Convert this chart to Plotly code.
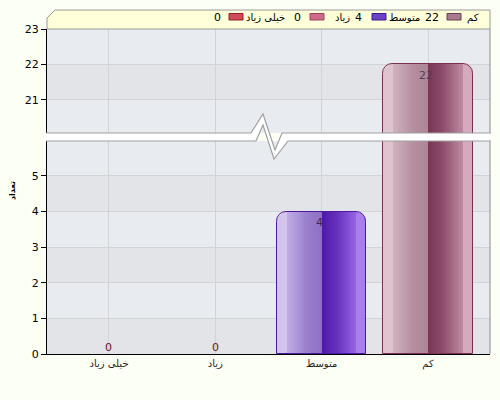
import plotly.graph_objects as go

# ---------------- data ----------------
CATEGORIES = ["خیلی زیاد", "زیاد", "متوسط", "کم"]
VALUES = [0, 0, 4, 22]
Y_TICKS_LOW = [0, 1, 2, 3, 4, 5]
Y_TICKS_HIGH = [21, 22, 23]
Y_TITLE = "تعداد"

# ---------------- styles ----------------
LEFT_STOPS = {
    "خیلی زیاد": ["#E8B0B8", "#D07080", "#C85868", "#C45060"],
    "زیاد": ["#ECC0CC", "#D888A0", "#CC7090", "#C86888"],
    "متوسط": ["#D2C4EC", "#B6A2DE", "#9A80CC", "#8E70C2"],
    "کم": ["#DEC4CE", "#CAAAB8", "#B48E9E", "#AC8696"],
}
RIGHT_STOPS = {
    "خیلی زیاد": ["#A02030", "#B83848", "#D06070", "#E890A0"],
    "زیاد": ["#A84060", "#B85878", "#D080A0", "#E8A8C0"],
    "متوسط": ["#4E18A6", "#6430BC", "#8A58DC", "#A87EEE"],
    "کم": ["#7A3656", "#8C4C6A", "#B27C96", "#D6AABE"],
}
OUTLINE = {"خیلی زیاد": "#8A1020", "زیاد": "#903050", "متوسط": "#4A1AA0", "کم": "#7A3050"}
LABEL_COLOR = {"خیلی زیاد": "#6A1020", "زیاد": "#6A1020", "متوسط": "#3A2660", "کم": "#5A3A4C"}
SWATCH = {"خیلی زیاد": ("#CC4C5C", "#9A1A2A"), "زیاد": ("#CE6A8A", "#A04060"),
          "متوسط": ("#6A42C4", "#3A1A98"), "کم": ("#A47C8E", "#6E3A52")}

FONT = "Tahoma, 'DejaVu Sans', sans-serif"
PAPER_BG = "#FCFFF4"
PLOT_BG = "#E8EBEF"
BAND_BG = "#E3E4E7"
GRID = "#D2D3D7"

# pixel geometry of plot area
L, R, T, B = 47, 490, 29, 354
W, H = R - L, B - T
def px(x): return (x - L) / W
def py(y): return (B - y) / H
def P(x, y): return f"{px(x):.5f},{py(y):.5f}"

LOW_TOP_PX, HIGH_BOT_PX = 141, 133
LOW_DOMAIN = [0, py(LOW_TOP_PX)]
HIGH_DOMAIN = [py(HIGH_BOT_PX), 1]
LOW_RANGE = [0, 5.98]
HIGH_RANGE = [20.07, 23]
X_RANGE = [-0.583, 3.583]

HALF = 0.42
EDGE = 0.095
NSLICE = 18
RADIUS = 10


def hex2rgb(h):
    h = h.lstrip("#")
    return [int(h[i:i + 2], 16) for i in (0, 2, 4)]


def interp(stops, f):
    f = min(max(f, 0), 1)
    n = len(stops) - 1
    k = min(int(f * n), n - 1)
    t = f * n - k
    a, b = hex2rgb(stops[k]), hex2rgb(stops[k + 1])
    c = [round(a[i] + (b[i] - a[i]) * t) for i in range(3)]
    return "#%02X%02X%02X" % tuple(c)


fig = go.Figure()

xs = list(range(len(CATEGORIES)))


def add_bar(offset, width, colors, axis, corner=None, outline=False):
    xa, ya = ("x", "y") if axis == "low" else ("x2", "y2")
    if outline:
        marker = dict(color="rgba(0,0,0,0)",
                      line=dict(width=[1 if v > 0 else 0 for v in VALUES],
                                color=[OUTLINE[c] for c in CATEGORIES]))
    else:
        marker = dict(color=colors, line=dict(width=0))
    if corner:
        marker["cornerradius"] = corner
    fig.add_trace(go.Bar(x=xs, y=VALUES, offset=offset, width=width, marker=marker,
                         xaxis=xa, yaxis=ya, hoverinfo="skip", showlegend=False))


for axis in ("low", "high"):
    add_bar(-HALF, HALF, [LEFT_STOPS[c][0] for c in CATEGORIES], axis, corner=RADIUS)
    add_bar(0, HALF, [RIGHT_STOPS[c][-1] for c in CATEGORIES], axis, corner=RADIUS)
    sw = (HALF - EDGE) / NSLICE
    for j in range(NSLICE):
        off = -HALF + EDGE + j * sw
        f = (EDGE + (j + 0.5) * sw) / HALF
        add_bar(off, sw * 1.05, [interp(LEFT_STOPS[c], f) for c in CATEGORIES], axis)
        off2 = j * sw
        f2 = ((j + 0.5) * sw) / HALF
        add_bar(off2, sw * 1.05, [interp(RIGHT_STOPS[c], f2) for c in CATEGORIES], axis)
    add_bar(-HALF, 2 * HALF, None, axis, corner=RADIUS, outline=True)

shapes = []
annotations = []

# alternating bands
for lo in [0, 2, 4]:
    shapes.append(dict(type="rect", xref="x domain", yref="y", x0=0, x1=1, y0=lo, y1=lo + 1,
                       fillcolor=BAND_BG, line=dict(width=0), layer="below"))
for lo in [21]:
    shapes.append(dict(type="rect", xref="x2 domain", yref="y2", x0=0, x1=1, y0=lo, y1=lo + 1,
                       fillcolor=BAND_BG, line=dict(width=0), layer="below"))

# right border lines
shapes.append(dict(type="line", xref="paper", yref="paper", x0=1, x1=1, y0=HIGH_DOMAIN[0], y1=1,
                   line=dict(color="#8C8C8C", width=1)))
shapes.append(dict(type="line", xref="paper", yref="paper", x0=1, x1=1, y0=0, y1=LOW_DOMAIN[1],
                   line=dict(color="#8C8C8C", width=1)))

# axis break band with zigzag
upper = [(L - 1, 133), (251, 133), (263, 114), (275, 150), (282, 133), (R + 1, 133)]
lower = [(R + 1, 141), (288, 141), (274, 159), (263, 125), (256, 141), (L - 1, 141)]
poly = "M " + " L ".join(P(*p) for p in upper + lower) + " Z"
shapes.append(dict(type="path", xref="paper", yref="paper", path=poly,
                   fillcolor="#FFFFFF", line=dict(width=0), layer="above"))
for seq in (upper, lower):
    shapes.append(dict(type="path", xref="paper", yref="paper",
                       path="M " + " L ".join(P(*p) for p in seq),
                       fillcolor="rgba(0,0,0,0)", line=dict(color="#A0A0A0", width=1.2), layer="above"))

# legend band
band = [(L, 29), (L, 18), (55, 10), (R, 10), (R, 29)]
shapes.append(dict(type="path", xref="paper", yref="paper",
                   path="M " + " L ".join(P(*p) for p in band) + " Z",
                   fillcolor="#FFFFD9", line=dict(color="#9A9A9A", width=1)))

# legend items (right to left)
LEGEND_SLOTS = [  # name_right, swatch_x0, swatch_x1, value_right
    (481, 447, 461, 441),
    (422, 372, 386, 364),
    (352, 310, 324, 303),
    (287, 229, 243, 223),
]
for slot, cat in zip(LEGEND_SLOTS, CATEGORIES[::-1]):
    nr, s0, s1, vr = slot
    val = VALUES[CATEGORIES.index(cat)]
    annotations.append(dict(xref="paper", yref="paper", x=px(nr), y=py(17.5), text=cat,
                            xanchor="right", yanchor="middle", showarrow=False,
                            font=dict(family=FONT, size=10, color="#000")))
    annotations.append(dict(xref="paper", yref="paper", x=px(vr), y=py(17.5), text=str(val),
                            xanchor="right", yanchor="middle", showarrow=False,
                            font=dict(family=FONT, size=11, color="#000")))
    fc, lc = SWATCH[cat]
    shapes.append(dict(type="rect", xref="paper", yref="paper", x0=px(s0), x1=px(s1),
                       y0=py(20), y1=py(13.5), fillcolor=fc, line=dict(color=lc, width=1)))

# value labels
for i, (cat, v) in enumerate(zip(CATEGORIES, VALUES)):
    high = v > LOW_RANGE[1]
    annotations.append(dict(xref="x2" if high else "x", yref="y2" if high else "y",
                            x=i, y=v, text=str(v), showarrow=False,
                            yshift=-11 if v > 0 else 7, xshift=-2 if v > 0 else 0,
                            font=dict(family=FONT, size=11, color=LABEL_COLOR[cat])))

# y title
annotations.append(dict(xref="paper", yref="paper", x=px(12), y=py(191), text=f"<b>{Y_TITLE}</b>",
                        textangle=-90, showarrow=False, xanchor="center", yanchor="middle",
                        font=dict(family=FONT, size=8, color="#000")))

axis_font = dict(family=FONT, size=11, color="#000")
fig.update_layout(
    width=500, height=400,
    margin=dict(l=L, r=500 - R, t=T, b=400 - B),
    paper_bgcolor=PAPER_BG, plot_bgcolor=PLOT_BG,
    barmode="overlay", bargap=0,
    showlegend=False,
    xaxis=dict(domain=[0, 1], anchor="y", type="linear", range=X_RANGE,
               tickvals=xs, ticktext=CATEGORIES, showgrid=True, gridcolor=GRID,
               showline=True, linecolor="#000", linewidth=1, ticks="", zeroline=False,
               tickfont=dict(family=FONT, size=10, color="#222")),
    xaxis2=dict(domain=[0, 1], anchor="y2", matches="x", range=X_RANGE,
                tickvals=xs, showticklabels=False, showgrid=True, gridcolor=GRID,
                showline=False, ticks="", zeroline=False),
    yaxis=dict(domain=LOW_DOMAIN, range=LOW_RANGE, tickvals=Y_TICKS_LOW, anchor="x",
               showgrid=True, gridcolor=GRID, showline=True, linecolor="#000", linewidth=1,
               ticks="outside", ticklen=5, tickcolor="#000", zeroline=False, tickfont=axis_font),
    yaxis2=dict(domain=HIGH_DOMAIN, range=HIGH_RANGE, tickvals=Y_TICKS_HIGH, anchor="x2",
                showgrid=True, gridcolor=GRID, showline=True, linecolor="#000", linewidth=1,
                ticks="outside", ticklen=5, tickcolor="#000", zeroline=False, tickfont=axis_font),
    shapes=shapes, annotations=annotations,
)

fig.write_html(
    "out.html",
    config={"displayModeBar": False},
    post_script=f"document.body.style.margin='0';document.body.style.background='{PAPER_BG}';",
)
